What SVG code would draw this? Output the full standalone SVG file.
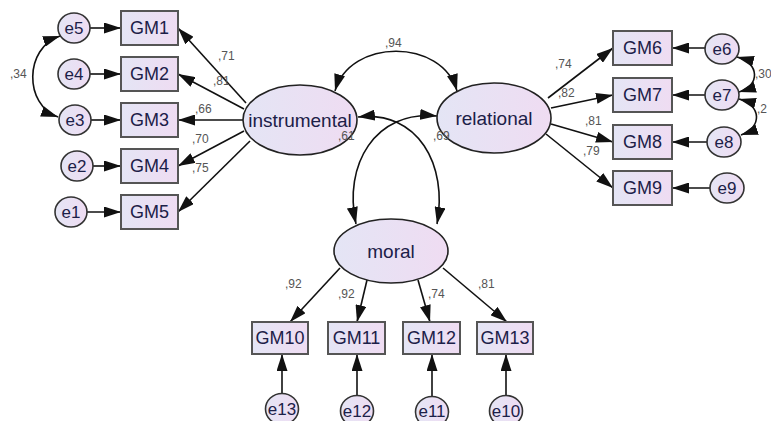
<svg xmlns="http://www.w3.org/2000/svg" width="771" height="421" viewBox="0 0 771 421">
<defs>
<linearGradient id="fillg" x1="0" y1="0" x2="1" y2="0">
<stop offset="0" stop-color="#e4e5f5"/>
<stop offset="1" stop-color="#efdcf2"/>
</linearGradient>
<marker id="ah" markerUnits="userSpaceOnUse" markerWidth="17" markerHeight="11" refX="17" refY="5.5" orient="auto-start-reverse">
<path d="M0,0 L17,5.5 L0,11 z" fill="#111"/>
</marker>
<style>
.lat{fill:url(#fillg);stroke:#222;stroke-width:1.6}
.obs{fill:url(#fillg);stroke:#555;stroke-width:2}
.err{fill:url(#fillg);stroke:#333;stroke-width:1.6}
.t{font-family:"Liberation Sans",Arial,sans-serif;fill:#1c2048;text-anchor:middle;dominant-baseline:central}
.tl{font-size:19px}
.to{font-size:18px}
.te{font-size:17px}
.lb{font-family:"Liberation Sans",Arial,sans-serif;font-size:12px;fill:#555}
.c{fill:none;stroke:#111;stroke-width:1.6;marker-end:url(#ah)}
.cv{fill:none;stroke:#111;stroke-width:1.6;marker-end:url(#ah);marker-start:url(#ah)}
</style>
</defs>
<rect width="771" height="421" fill="#ffffff"/>

<g id="connectors">
<line class="c" x1="90" y1="28" x2="121" y2="28"/>
<line class="c" x1="90" y1="74" x2="121" y2="74"/>
<line class="c" x1="91" y1="120" x2="121" y2="120"/>
<line class="c" x1="93" y1="166" x2="121" y2="166"/>
<line class="c" x1="87" y1="212" x2="121" y2="212"/>
<line class="c" x1="246" y1="103" x2="178" y2="28"/>
<line class="c" x1="244" y1="109" x2="178" y2="74"/>
<line class="c" x1="243" y1="120" x2="178" y2="120"/>
<line class="c" x1="244" y1="131" x2="178" y2="166"/>
<line class="c" x1="250" y1="141" x2="178" y2="212"/>
<line class="c" x1="548" y1="98" x2="613" y2="48"/>
<line class="c" x1="551" y1="108" x2="613" y2="95"/>
<line class="c" x1="551" y1="124" x2="613" y2="142"/>
<line class="c" x1="546" y1="134" x2="613" y2="188"/>
<line class="c" x1="705" y1="48" x2="672" y2="48"/>
<line class="c" x1="705" y1="95" x2="672" y2="95"/>
<line class="c" x1="707" y1="142" x2="672" y2="142"/>
<line class="c" x1="710" y1="188" x2="672" y2="188"/>
<line class="c" x1="340" y1="268" x2="290" y2="322"/>
<line class="c" x1="367" y1="280" x2="357" y2="322"/>
<line class="c" x1="418" y1="280" x2="430" y2="322"/>
<line class="c" x1="443" y1="268" x2="507" y2="322"/>
<line class="c" x1="282" y1="394" x2="282" y2="354"/>
<line class="c" x1="357" y1="396" x2="357" y2="354"/>
<line class="c" x1="432" y1="397" x2="432" y2="354"/>
<line class="c" x1="506" y1="396" x2="506" y2="354"/>
<path class="cv" d="M335,91 C350,38 442,38 457,91"/>
<path class="cv" d="M358,117 C418,110 448,165 437,224"/>
<path class="cv" d="M437,116 C375,110 343,165 356,224"/>
<path class="cv" d="M60,36 C24,48 24,105 58,117"/>
<path class="cv" d="M737,57 C760,63 760,86 739,92"/>
<path class="cv" d="M739,99 C762,105 762,128 741,135"/>
</g>

<g id="instrumental"><ellipse class="lat" cx="300" cy="120" rx="57" ry="35"/><text class="t tl" x="300" y="120">instrumental</text></g>
<g id="relational"><ellipse class="lat" cx="494" cy="118" rx="57" ry="35"/><text class="t tl" x="494" y="118">relational</text></g>
<g id="moral"><ellipse class="lat" cx="391" cy="251" rx="57" ry="32"/><text class="t tl" x="391" y="251">moral</text></g>

<g id="GM1"><rect class="obs" x="121" y="11" width="57" height="34"/><text class="t to" x="149.5" y="28">GM1</text></g>
<g id="GM2"><rect class="obs" x="121" y="57" width="57" height="34"/><text class="t to" x="149.5" y="74">GM2</text></g>
<g id="GM3"><rect class="obs" x="121" y="103" width="57" height="34"/><text class="t to" x="149.5" y="120">GM3</text></g>
<g id="GM4"><rect class="obs" x="121" y="149" width="57" height="34"/><text class="t to" x="149.5" y="166">GM4</text></g>
<g id="GM5"><rect class="obs" x="121" y="195" width="57" height="34"/><text class="t to" x="149.5" y="212">GM5</text></g>

<g id="GM6"><rect class="obs" x="613" y="31" width="59" height="34"/><text class="t to" x="642.5" y="48">GM6</text></g>
<g id="GM7"><rect class="obs" x="613" y="78" width="59" height="34"/><text class="t to" x="642.5" y="95">GM7</text></g>
<g id="GM8"><rect class="obs" x="613" y="125" width="59" height="34"/><text class="t to" x="642.5" y="142">GM8</text></g>
<g id="GM9"><rect class="obs" x="613" y="171" width="59" height="34"/><text class="t to" x="642.5" y="188">GM9</text></g>

<g id="GM10"><rect class="obs" x="252" y="322" width="56" height="32"/><text class="t to" x="280" y="338">GM10</text></g>
<g id="GM11"><rect class="obs" x="328" y="322" width="57" height="32"/><text class="t to" x="356.5" y="338">GM11</text></g>
<g id="GM12"><rect class="obs" x="403" y="322" width="57" height="32"/><text class="t to" x="431.5" y="338">GM12</text></g>
<g id="GM13"><rect class="obs" x="477" y="322" width="56" height="32"/><text class="t to" x="505" y="338">GM13</text></g>

<g id="e5"><ellipse class="err" cx="74" cy="28" rx="16" ry="15"/><text class="t te" x="74" y="28">e5</text></g>
<g id="e4"><ellipse class="err" cx="74" cy="74" rx="16" ry="15"/><text class="t te" x="74" y="74">e4</text></g>
<g id="e3"><ellipse class="err" cx="75" cy="120" rx="16" ry="15"/><text class="t te" x="75" y="120">e3</text></g>
<g id="e2"><ellipse class="err" cx="77" cy="166" rx="16" ry="15"/><text class="t te" x="77" y="166">e2</text></g>
<g id="e1"><ellipse class="err" cx="71" cy="212" rx="16" ry="15"/><text class="t te" x="71" y="212">e1</text></g>

<g id="e6"><ellipse class="err" cx="722" cy="49" rx="17" ry="15"/><text class="t te" x="722" y="49">e6</text></g>
<g id="e7"><ellipse class="err" cx="722" cy="95" rx="17" ry="15"/><text class="t te" x="722" y="95">e7</text></g>
<g id="e8"><ellipse class="err" cx="724" cy="142" rx="17" ry="15"/><text class="t te" x="724" y="142">e8</text></g>
<g id="e9"><ellipse class="err" cx="727" cy="188" rx="17" ry="15"/><text class="t te" x="727" y="188">e9</text></g>

<g id="e13"><ellipse class="err" cx="282" cy="409" rx="16.5" ry="15.5"/><text class="t te" x="282" y="409">e13</text></g>
<g id="e12"><ellipse class="err" cx="357" cy="411" rx="16.5" ry="15.5"/><text class="t te" x="357" y="411">e12</text></g>
<g id="e11"><ellipse class="err" cx="432" cy="412" rx="16.5" ry="15.5"/><text class="t te" x="432" y="411">e11</text></g>
<g id="e10"><ellipse class="err" cx="506" cy="411" rx="16.5" ry="15.5"/><text class="t te" x="506" y="411">e10</text></g>

<g id="labels">
<text class="lb" x="218" y="60">,71</text>
<text class="lb" x="213" y="85">,81</text>
<text class="lb" x="195" y="113">,66</text>
<text class="lb" x="192" y="143">,70</text>
<text class="lb" x="192" y="172">,75</text>
<text class="lb" x="10" y="78">,34</text>
<text class="lb" x="385" y="47">,94</text>
<text class="lb" x="338" y="140">,61</text>
<text class="lb" x="433" y="140">,69</text>
<text class="lb" x="555" y="68">,74</text>
<text class="lb" x="558" y="97">,82</text>
<text class="lb" x="585" y="125">,81</text>
<text class="lb" x="583" y="155">,79</text>
<text class="lb" x="285" y="288">,92</text>
<text class="lb" x="338" y="298">,92</text>
<text class="lb" x="428" y="298">,74</text>
<text class="lb" x="478" y="288">,81</text>
<text class="lb" x="755" y="78">,30</text>
<text class="lb" x="757" y="113">,2</text>
</g>
</svg>
